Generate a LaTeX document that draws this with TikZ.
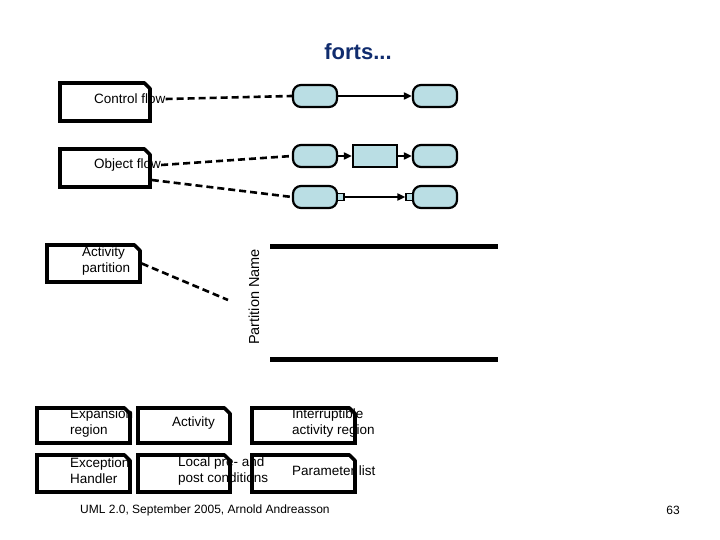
\documentclass[tikz,border=0pt]{standalone}
\usepackage{fontspec}
\setmainfont{Liberation Sans}
\usetikzlibrary{arrows.meta,positioning}
\definecolor{actblue}{RGB}{186,222,228}
\definecolor{titleblue}{RGB}{16,44,110}
\tikzset{
  note/.style  ={draw,line width=3.6pt,inner sep=0pt},
  fold/.style  ={line width=3.6pt,line cap=round},
  lbl/.style   ={inner sep=0pt,align=left,font=\fontsize{13.5}{16}\selectfont},
  act/.style   ={draw,line width=2.2pt,rounded corners=8pt,fill=actblue,
                 minimum width=44pt,minimum height=22pt,inner sep=0pt},
  obj/.style   ={draw,line width=2.2pt,fill=actblue,
                 minimum width=44pt,minimum height=22pt,inner sep=0pt},
  pin/.style   ={draw,line width=1.2pt,fill=actblue,minimum size=7pt,inner sep=0pt},
  ar/.style    ={line width=1.8pt,-{Triangle[length=8pt,width=7pt]}},
  link/.style  ={line width=2.6pt,dash pattern=on 7pt off 4pt},
  lane/.style  ={line width=5pt},
}
\begin{document}
\begin{tikzpicture}[x=1pt,y=-1pt]
\useasboundingbox (0,0) rectangle (720,540);
% title
\node[font=\fontsize{22}{26}\selectfont\bfseries,text=titleblue] (title) at (358,52) {forts...};
% note frames
\node[note,minimum width=90pt,minimum height=38pt] (cfbox) at (105,102) {};
\node[note,minimum width=90pt,minimum height=38pt] (ofbox) at (105,168) {};
\node[note,minimum width=93pt,minimum height=37pt] (apbox) at (93.5,263.5) {};
\node[note,minimum width=93pt,minimum height=35pt] (exbox) at (83.5,425.5) {};
\node[note,minimum width=92pt,minimum height=35pt] (acbox) at (184,425.5) {};
\node[note,minimum width=103pt,minimum height=35pt] (irbox) at (303.5,425.5) {};
\node[note,minimum width=93pt,minimum height=37pt] (ehbox) at (83.5,473.5) {};
\node[note,minimum width=92pt,minimum height=37pt] (lcbox) at (184,473.5) {};
\node[note,minimum width=103pt,minimum height=37pt] (plbox) at (303.5,473.5) {};
% folded corners
\foreach \n in {cfbox,ofbox,apbox,exbox,acbox,irbox,ehbox,lcbox,plbox}{
  \fill[white] ([shift={(-9,-2)}]\n.north east) -- ([shift={(2,-2)}]\n.north east)
     -- ([shift={(2,9)}]\n.north east) -- cycle;
  \draw[fold] ([shift={(-7.5,1.8)}]\n.north east) -- ([shift={(-1.8,7.5)}]\n.north east);
}
% control flow
\node[lbl,anchor=west] (cft) at (94,99) {Control flow};
\node[act] (a1) at (315,96) {};
\node[act] (a2) at (435,96) {};
\draw[ar] (a1) -- (a2);
\draw[link] (cft.east) -- (a1.west);
% object flow
\node[lbl,anchor=west] (oft) at (94,165) {Object flow};
\node[act] (b1) at (315,156) {};
\node[obj] (b2) at (375,156) {};
\node[act] (b3) at (435,156) {};
\draw[ar] (b1) -- (b2);
\draw[ar] (b2) -- (b3);
\node[act] (c1) at (315,197) {};
\node[act] (c3) at (435,197) {};
\node[pin] (p1) at (340.5,197) {};
\node[pin] (p2) at (409.5,197) {};
\draw[ar] (p1) -- (p2);
\draw[link] (oft.east) -- (b1.west);
\draw[link] ([yshift=-12pt]ofbox.east) -- (c1.west);
% activity partition
\node[lbl,anchor=west] (apt) at (82,261) {Activity\\partition};
\node[lbl,rotate=90,font=\fontsize{14.5}{16}\selectfont] (pname) at (254,297) {Partition Name};
\coordinate (pend) at (228,300);
\draw[link] (apbox.east) -- (pend);
\draw[lane] (270,246) -- (498,246);
\draw[lane] (270,359) -- (498,359);
% bottom notes
\node[lbl,anchor=west] (ext) at (70,423) {Expansion\\region};
\node[lbl,anchor=west] (act) at (172,423) {Activity};
\node[lbl,anchor=west] (irt) at (292,423) {Interruptible\\activity region};
\node[lbl,anchor=west] (eht) at (70,471) {Exception\\Handler};
\node[lbl,anchor=west] (lct) at (178,471) {Local pre- and\\post conditions};
\node[lbl,anchor=west] (plt) at (292,471) {Parameter list};
% footer
\node[anchor=west,inner sep=0pt,font=\fontsize{12}{14}\selectfont] (foot) at (80,510) {UML 2.0, September 2005, Arnold Andreasson};
\node[anchor=east,inner sep=0pt,font=\fontsize{12}{14}\selectfont] (page) at (680,510) {63};
\end{tikzpicture}
\end{document}
